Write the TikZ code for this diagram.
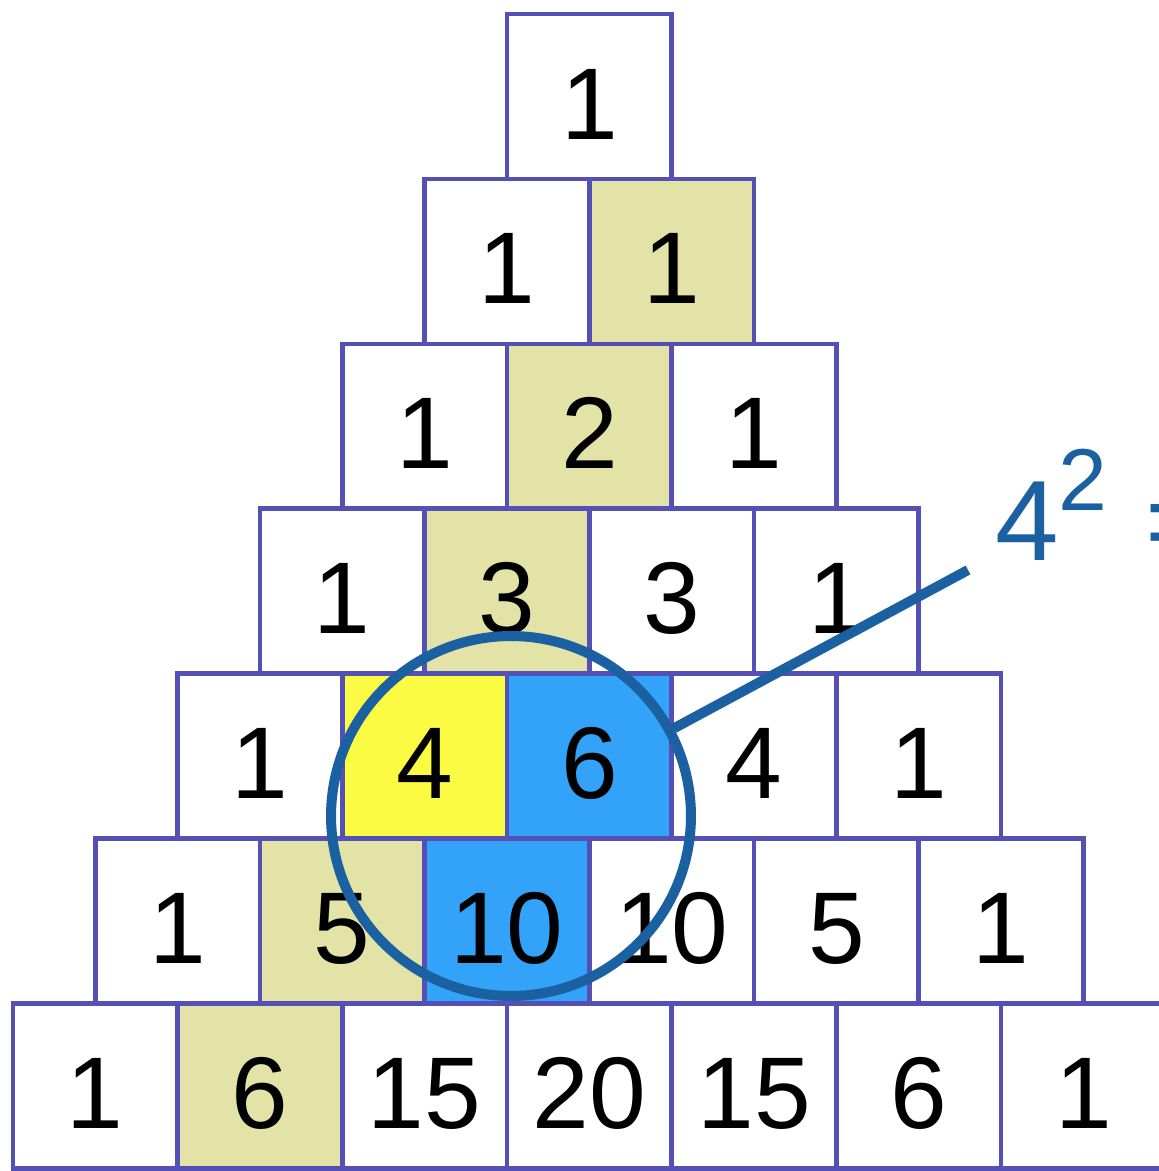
\documentclass[tikz,border=0pt]{standalone}
\usepackage{fontspec}
\setmainfont{Liberation Sans}
\definecolor{cellline}{HTML}{5550B5}
\definecolor{khaki}{HTML}{E3E3A8}
\definecolor{yel}{HTML}{FBFB43}
\definecolor{sky}{HTML}{33A3F9}
\definecolor{ringblue}{HTML}{1B60A0}
\begin{document}
\begin{tikzpicture}[x=0.02cm,y=-0.02cm,
  cell/.style={draw=cellline,line width=0.09cm,minimum width=3.294cm,minimum height=3.298cm,
    inner sep=0pt,outer sep=0pt,text height=1.705cm,text depth=0pt,font=\fontsize{58}{60}\selectfont}]
  \useasboundingbox (0,0) rectangle (1159,1171);
  % rows of the triangle: value/fill
  \foreach \r/\row in {1/{1/white},
      2/{1/white,1/khaki},
      3/{1/white,2/khaki,1/white},
      4/{1/white,3/khaki,3/white,1/white},
      5/{1/white,4/yel,6/sky,4/white,1/white},
      6/{1/white,5/khaki,10/sky,10/white,5/white,1/white},
      7/{1/white,6/khaki,15/white,20/white,15/white,6/white,1/white}}
    \foreach \v/\f [count=\k] in \row
      \node[cell,fill=\f] (c-\r-\k) at ({589.35-(\r-1)*82.35+(\k-1)*164.7},{96.45+(\r-1)*164.9}) {\v};
  % ring round 4, 6, 10
  \node[draw=ringblue,line width=0.2cm,circle,minimum size=7.2cm,inner sep=0pt] (ring) at (511,816) {};
  \coordinate (tip) at (968,570);
  \draw[ringblue,line width=0.2cm] (ring) -- (tip);
  \node[anchor=base west,inner sep=0pt,text=ringblue,font=\fontsize{65}{66}\selectfont] (sq) at (995,560)
    {4\raisebox{1cm}{\fontsize{50}{50}\selectfont 2}\hspace{0.75cm}=};
\end{tikzpicture}
\end{document}
